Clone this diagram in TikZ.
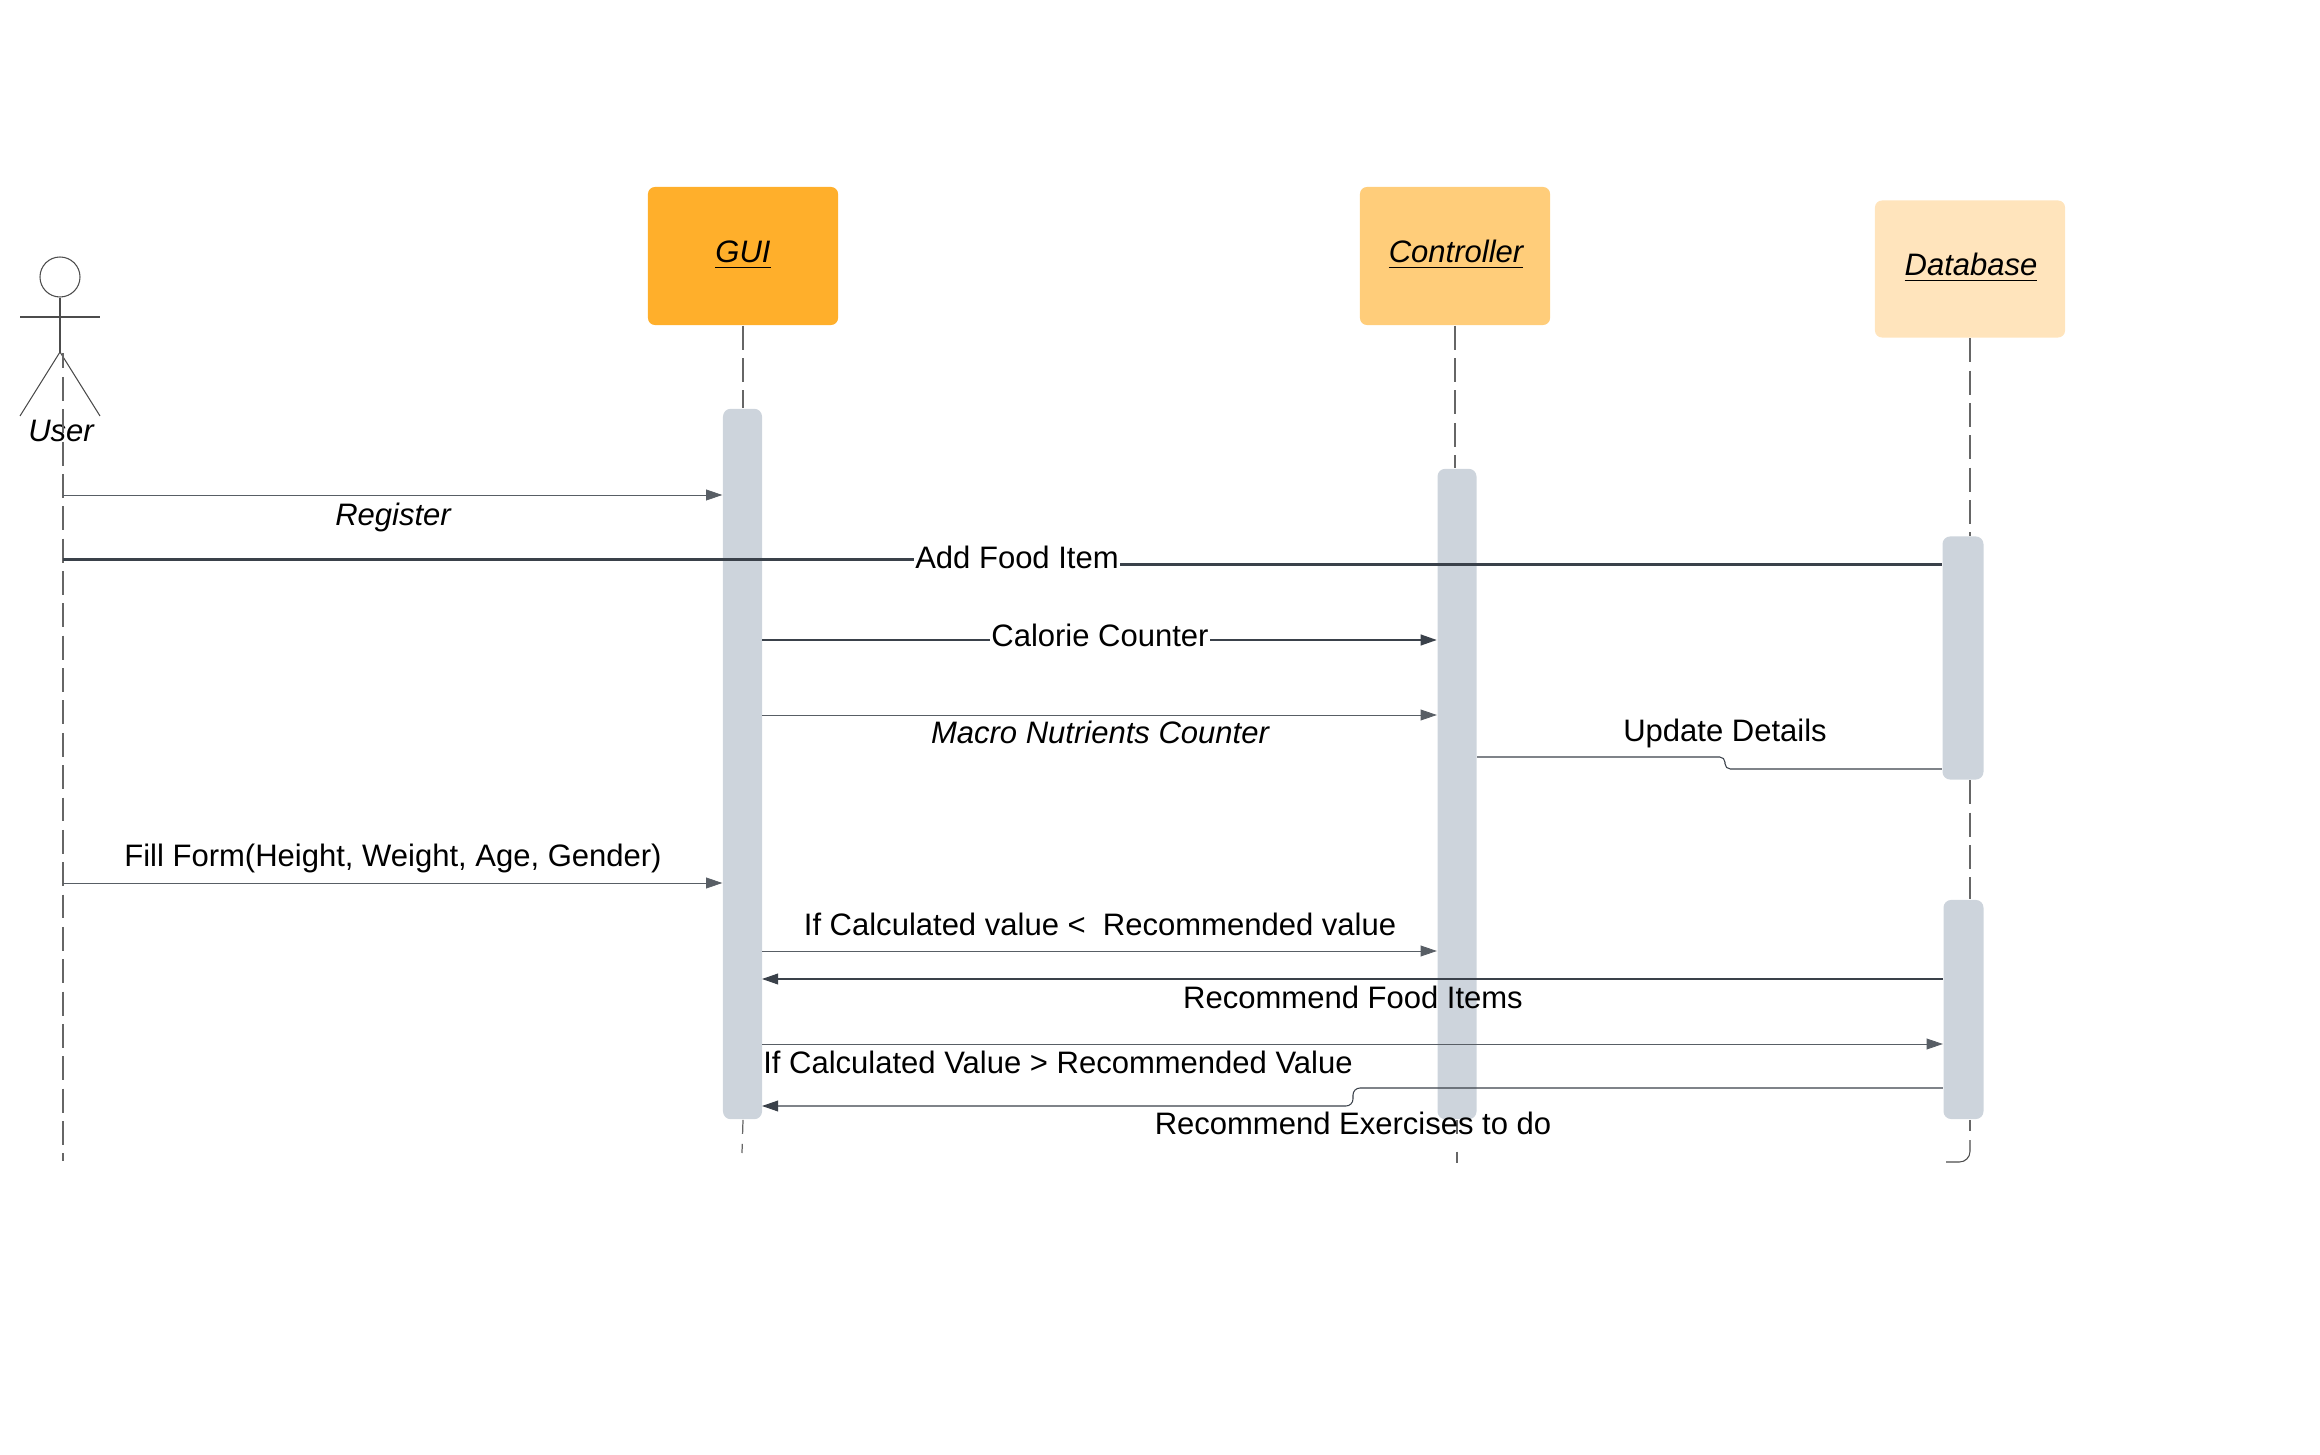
\documentclass[tikz,border=0pt]{standalone}
\usepackage{fontspec}
\setmainfont{Liberation Sans}
\usepackage{tikz}
\usetikzlibrary{arrows.meta,positioning,calc}
\definecolor{guiorange}{HTML}{FFAF2B}
\definecolor{ctrlorange}{HTML}{FFCD7A}
\definecolor{dborange}{HTML}{FFE4BC}
\definecolor{barblue}{HTML}{CDD4DC}
\definecolor{msgline}{HTML}{3A414A}
\tikzset{
  headbox/.style={fill=#1,rounded corners=2pt,minimum width=1.90cm,inner sep=0pt},
  actbar/.style={fill=barblue,rounded corners=2.2pt,inner sep=0pt,minimum width=.39cm},
  lifeline/.style={draw=black!60,line width=.35pt,dash pattern=on 6.8pt off 2.4pt},
  shortdash/.style={dash pattern=on 4pt off 2.8pt},
  msg/.style={draw=msgline,line width=.3pt},
  msgarrow/.style={msg,-{Triangle[length=4.6pt,width=3.1pt]}},
  thinarrow/.style={msgarrow,draw=msgline!85,line width=.22pt},
  stick/.style={draw=black!70,line width=.3pt},
  lbl/.style={inner sep=0pt,font=\fontsize{8.82}{10}\selectfont},
  ilbl/.style={lbl,font=\fontsize{8.82}{10}\selectfont\itshape},
}
\begin{document}
\begin{tikzpicture}[x=.01cm,y=-.01cm]
\useasboundingbox (0,0) rectangle (2320,1455);

% heads
\node[headbox=guiorange,minimum height=1.38cm] (guiBox) at (743,256) {};
\node[headbox=ctrlorange,minimum height=1.38cm] (ctrlBox) at (1455,256) {};
\node[headbox=dborange,minimum height=1.37cm] (dbBox) at (1970,269) {};
\node[ilbl] (guiName) at (743,255) {\underline{GUI}};
\node[ilbl] (ctrlName) at (1456,255) {\underline{Controller}};
\node[ilbl] (dbName) at (1971,268) {\underline{Database}};

% bars
\node[actbar,minimum height=7.10cm] (guiBar) at (742.5,764) {};
\node[actbar,minimum height=6.50cm] (ctrlBar) at (1457,794) {};
\node[actbar,minimum width=.41cm,minimum height=2.43cm] (dbBarA) at (1963,658) {};
\node[actbar,minimum width=.40cm,minimum height=2.19cm] (dbBarB) at (1963.5,1009.5) {};

% actor
\node[circle,stick,minimum size=.40cm,inner sep=0pt] (userHead) at (60,277) {};
\coordinate (userHip) at (60,352);
\draw[stick] (userHead) -- (userHip);
\draw[stick] (20,317) -- (100,317);
\draw[stick] (20,416) -- (userHip) -- (100,416);
\node[ilbl] (userName) at (61,431) {User};

% lifelines
\coordinate (userTop) at (63,353);
\coordinate (userEnd) at (63,1161);
\coordinate (guiEnd) at (742,1153);
\coordinate (ctrlEnd) at (1457,1163);
\coordinate (dbCurve) at (1971,1140);
\coordinate (dbEnd) at (1946,1162);
\draw[lifeline,dash phase=2.4pt] (userTop) -- (userEnd);
\draw[lifeline] (guiBox) -- (guiBar.north -| guiBox);
\draw[lifeline,shortdash] (guiBar.south -| guiBox) -- (guiEnd);
\draw[lifeline] (ctrlBox) -- (ctrlBar.north -| ctrlBox);
\draw[lifeline,dash pattern=on 4pt off 5pt] (ctrlBar) -- (ctrlEnd);
\draw[lifeline] (dbBox) -- (dbBarA.north -| dbBox);
\draw[lifeline] (dbBarA.south -| dbBox) -- (dbBarB.north -| dbBox);
\draw[lifeline,shortdash] (dbBarB.south -| dbBox) -- ++(0,11);
\draw[stick,rounded corners=3pt] (dbBox |- dbCurve) -- (dbBox |- dbEnd) -- (dbEnd);

% messages
\coordinate (regY) at (63,495);
\coordinate (addA) at (63,559.5);
\coordinate (addB) at (1016,564.5);
\coordinate (calY) at (762,640);
\coordinate (macY) at (762,715);
\coordinate (fillY) at (63,883);
\coordinate (lessY) at (762,951);
\coordinate (foodY) at (762,979);
\coordinate (moreY) at (762,1044);
\coordinate (updA) at (1477,757);
\coordinate (updB) at (1725,769);
\coordinate (exA) at (1353,1088);
\coordinate (exB) at (1353,1106);

\draw[thinarrow] (regY) -- (regY -| guiBar.west);
\draw[msg,line width=.7pt] (addA) -- (addA -| addB) -- (addB) -- (addB -| dbBarA.west);
\draw[msgarrow,line width=.45pt] (calY) -- (calY -| ctrlBar.west);
\draw[thinarrow] (macY) -- (macY -| ctrlBar.west);
\draw[msg,rounded corners=1.5pt] (updA) -- (updA -| updB) -- (updB) -- (updB -| dbBarA.west);
\draw[thinarrow] (fillY) -- (fillY -| guiBar.west);
\draw[thinarrow] (lessY) -- (lessY -| ctrlBar.west);
\draw[msgarrow] (foodY -| dbBarB.west) -- (foodY);
\draw[thinarrow] (moreY) -- (moreY -| dbBarB.west);
\draw[msgarrow,rounded corners=2pt] (exA -| dbBarB.west) -- (exA) -- (exB) -- (foodY |- exB);

% labels
\node[ilbl] (regLbl) at (393,517) {Register};
\node[lbl,fill=white,inner xsep=.5pt,inner ysep=1pt] (addLbl) at (1017,557) {Add Food Item};
\node[lbl,fill=white,inner xsep=.5pt,inner ysep=1pt] (calLbl) at (1100,635) {Calorie Counter};
\node[ilbl] (macLbl) at (1100,732) {Macro Nutrients Counter};
\node[lbl] (updLbl) at (1725,733) {Update Details};
\node[lbl] (fillLbl) at (393,858) {Fill Form(Height, Weight, Age, Gender)};
\node[lbl] (lessLbl) at (1100,924) {If Calculated value <\ \ Recommended value};
\node[lbl] (foodLbl) at (1353,997) {Recommend Food Items};
\node[lbl] (moreLbl) at (1058,1062) {If Calculated Value > Recommended Value};
\node[lbl] (exLbl) at (1353,1123) {Recommend Exercises to do};
\end{tikzpicture}
\end{document}
